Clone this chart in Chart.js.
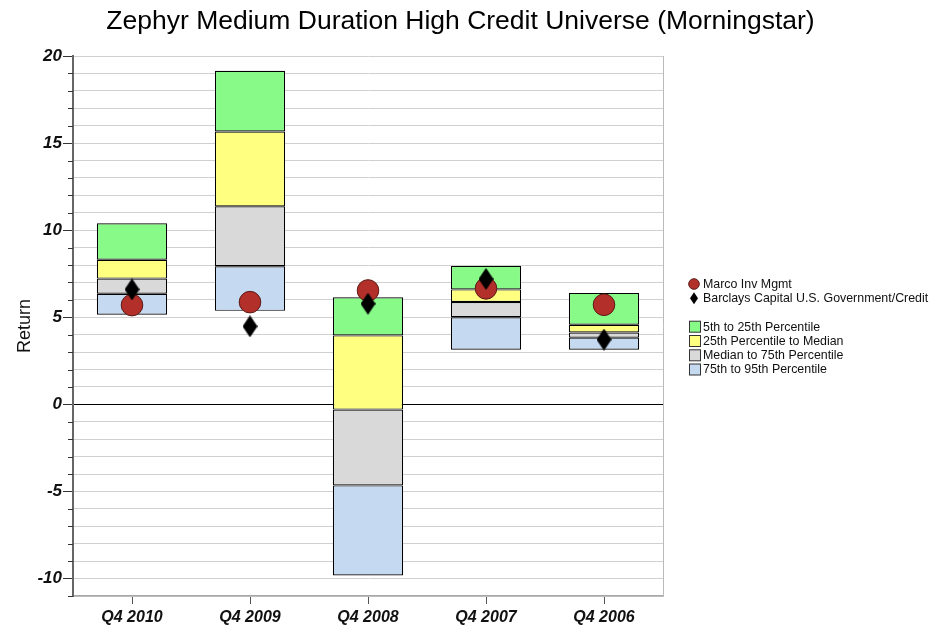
<!DOCTYPE html>
<html>
<head>
<meta charset="utf-8">
<style>
html,body{margin:0;padding:0;background:#fff;}
#wrap{width:947px;height:627px;position:relative;}
</style>
<script src="https://cdn.jsdelivr.net/npm/chart.js@4.4.1/dist/chart.umd.min.js"></script>
</head>
<body>
<div id="wrap"><canvas id="c" width="947" height="627"></canvas></div>
<script>
// ---- Data ----
const categories = ['Q4 2010', 'Q4 2009', 'Q4 2008', 'Q4 2007', 'Q4 2006'];
const p5  = [10.4, 19.15, 6.15, 7.95, 6.4];
const p25 = [8.3, 15.67, 3.96, 6.6, 4.57];
const p50 = [7.22, 11.37, -0.3, 5.88, 4.13];
const p75 = [6.35, 7.93, -4.65, 5.0, 3.83];
const p95 = [5.15, 5.37, -9.82, 3.14, 3.14];
const marco = [5.7, 5.87, 6.54, 6.66, 5.72];
const barclays = [6.6, 4.48, 5.78, 7.2, 3.72];
const yTickLabels = [-10, -5, 0, 5, 10, 15, 20];
const seriesNames = ['Marco Inv Mgmt', 'Barclays Capital U.S. Government/Credit',
  '5th to 25th Percentile', '25th Percentile to Median', 'Median to 75th Percentile', '75th to 95th Percentile'];

const COL = {
  green: '#88FA88', yellow: '#FFFF80', grey: '#D9D9D9', blue: '#C5D9F1',
  red: '#B3302A', redBorder: '#5A1A15'
};
const FONT = "'Liberation Sans', Arial, Helvetica, sans-serif";

function ranges(hi, lo) { return hi.map((h, i) => [lo[i], h]); }

// tall diamond point image
const diamond = document.createElement('canvas');
diamond.width = 15; diamond.height = 22;
(function () {
  const g = diamond.getContext('2d');
  g.fillStyle = '#000';
  g.beginPath();
  g.moveTo(7.5, 0); g.lineTo(15, 11); g.lineTo(7.5, 22); g.lineTo(0, 11);
  g.closePath(); g.fill();
})();

const barCommon = {
  type: 'bar', grouped: false, borderColor: '#000', borderWidth: 1.2, borderSkipped: false,
  categoryPercentage: 1.0, barPercentage: 0.595, order: 3
};

const legendPlugin = {
  id: 'sideLegend',
  afterDraw(chart) {
    const ctx = chart.ctx;
    ctx.save();
    ctx.font = '12.4px ' + FONT;
    ctx.textBaseline = 'middle';
    ctx.fillStyle = '#111';
    const x0 = 694, tx = 703;
    const rows = [284, 298.3, 326.7, 341, 355.3, 369.5];
    // circle
    ctx.beginPath(); ctx.arc(x0, rows[0], 5.3, 0, Math.PI * 2);
    ctx.fillStyle = COL.red; ctx.fill(); ctx.strokeStyle = COL.redBorder; ctx.lineWidth = 1; ctx.stroke();
    // diamond
    ctx.beginPath(); ctx.moveTo(x0, rows[1] - 6); ctx.lineTo(x0 + 4, rows[1]); ctx.lineTo(x0, rows[1] + 6); ctx.lineTo(x0 - 4, rows[1]);
    ctx.closePath(); ctx.fillStyle = '#000'; ctx.fill();
    const boxCols = [COL.green, COL.yellow, COL.grey, COL.blue];
    for (let i = 0; i < 4; i++) {
      const y = rows[i + 2];
      ctx.fillStyle = boxCols[i];
      ctx.fillRect(689.5, y - 5.5, 11, 11);
      ctx.strokeStyle = '#333'; ctx.lineWidth = 1;
      ctx.strokeRect(689.5, y - 5.5, 11, 11);
    }
    ctx.fillStyle = '#111';
    seriesNames.forEach((n, i) => ctx.fillText(n, tx, rows[i] + 0.5));
    ctx.restore();
  }
};

const minorTicks = {
  id: 'minorTicks',
  afterDraw(chart) {
    const s = chart.scales.y;
    const ctx = chart.ctx;
    ctx.save();
    ctx.strokeStyle = '#333'; ctx.lineWidth = 1;
    for (let v = Math.ceil(s.min); v <= s.max; v++) {
      if (v % 5 === 0) continue;
      const y = Math.round(s.getPixelForValue(v)) + 0.5;
      ctx.beginPath(); ctx.moveTo(s.right - 5, y); ctx.lineTo(s.right, y); ctx.stroke();
    }
    ctx.restore();
  }
};

new Chart(document.getElementById('c'), {
  data: {
    labels: categories,
    datasets: [
      { type: 'line', label: seriesNames[1], data: barclays, showLine: false,
        pointStyle: diamond, pointRadius: 11, order: 0 },
      { type: 'line', label: seriesNames[0], data: marco, showLine: false,
        pointStyle: 'circle', pointRadius: 10.8, pointBackgroundColor: COL.red,
        pointBorderColor: COL.redBorder, pointBorderWidth: 1, order: 1 },
      Object.assign({ label: seriesNames[2], data: ranges(p5, p25), backgroundColor: COL.green }, barCommon),
      Object.assign({ label: seriesNames[3], data: ranges(p25, p50), backgroundColor: COL.yellow }, barCommon),
      Object.assign({ label: seriesNames[4], data: ranges(p50, p75), backgroundColor: COL.grey }, barCommon),
      Object.assign({ label: seriesNames[5], data: ranges(p75, p95), backgroundColor: COL.blue }, barCommon)
    ]
  },
  options: {
    responsive: false,
    animation: false,
    layout: { padding: { left: 0, right: 26, top: 0, bottom: 0 } },
    plugins: {
      legend: { display: false },
      tooltip: { enabled: false },
      title: {
        display: true,
        text: 'Zephyr Medium Duration High Credit Universe (Morningstar)',
        color: '#000',
        font: { family: FONT, size: 26.5, weight: 'normal' },
        padding: { top: 6, bottom: 18.2 }
      }
    },
    scales: {
      x: {
        type: 'category',
        offset: true,
        grid: { offset: false, drawOnChartArea: false, drawTicks: true, tickLength: 8, tickColor: '#555', tickWidth: 1 },
        border: { display: true, color: '#A8A8A8', width: 1.5 },
        ticks: { color: '#111', padding: 4, font: { family: FONT, size: 16, weight: 'bold', style: 'italic' } },
        afterFit(s) { s.height = 31; }
      },
      y: {
        type: 'linear',
        position: 'left',
        min: -11, max: 20,
        ticks: {
          stepSize: 1, autoSkip: false, padding: 1, color: '#111',
          font: { family: FONT, size: 17, weight: 'bold', style: 'italic' },
          callback: (v) => yTickLabels.includes(v) ? String(v) : ''
        },
        grid: {
          color: (c) => c.tick && c.tick.value === 0 ? '#000' : '#D0D0D0',
          lineWidth: 1,
          tickLength: 10,
          tickColor: (c) => c.tick && c.tick.value % 5 === 0 ? '#333' : 'rgba(0,0,0,0)'
        },
        border: { display: true, color: '#666', width: 2 },
        title: { display: true, text: 'Return', color: '#111', font: { family: FONT, size: 18 }, padding: { top: 14, bottom: 0 } },
        afterFit(s) { s.width = 73; }
      },
      y2: {
        type: 'linear', position: 'right', min: -11, max: 20,
        grid: { display: false, drawOnChartArea: false },
        ticks: { display: false },
        border: { display: true, color: '#BBBBBB', width: 1 },
        afterFit(s) { s.width = 258; }
      }
    }
  },
  plugins: [minorTicks, legendPlugin]
});
</script>
</body>
</html>
